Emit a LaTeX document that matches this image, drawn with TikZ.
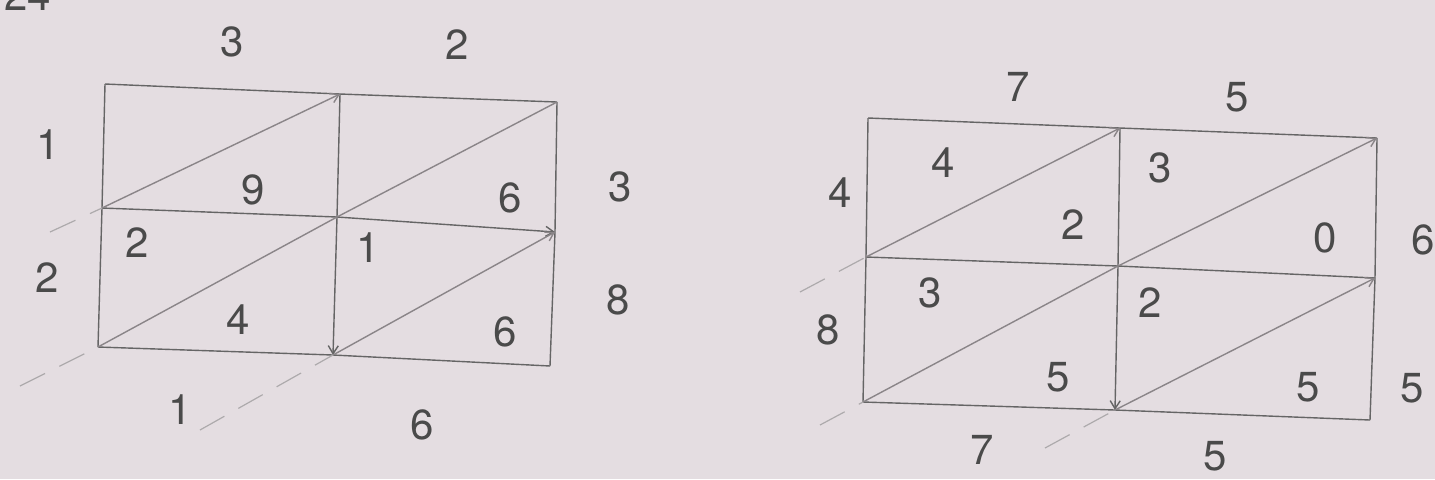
\documentclass[tikz,border=0pt]{standalone}
\usepackage{fontspec}
\setmainfont{TeX Gyre Heros}
\usetikzlibrary{arrows.meta}
\definecolor{paper}{HTML}{E4DDE1}
\definecolor{ink}{HTML}{4A4A4A}
\definecolor{pale}{HTML}{8A8588}
\begin{document}
\begin{tikzpicture}[x=0.5pt,y=-0.5pt,
  digit/.style={text=ink,font=\fontsize{21}{21}\selectfont,inner sep=0pt},
  gridline/.style={draw=ink!85,line width=0.7pt},
  diag/.style={draw=pale,line width=0.7pt},
  faint/.style={draw=pale!70,line width=0.6pt,dash pattern=on 14pt off 8pt},
  tip/.style={-{Straight Barb[length=4pt,width=5pt]}}]
\fill[paper] (0,0) rectangle (1435,479);
\useasboundingbox (0,0) rectangle (1435,479);
% partial top label (cut off by the page edge, as in the scan)
\node[digit] (corner) at (28,-4) {24};
% ---------- left lattice ----------
\coordinate (a1) at (105,84);  \coordinate (a2) at (340,94);  \coordinate (a3) at (557,102);
\coordinate (b1) at (102,208); \coordinate (b2) at (337,217); \coordinate (b3) at (555,232);
\coordinate (c1) at (98,347);  \coordinate (c2) at (333,355); \coordinate (c3) at (550,366);
\coordinate (e1) at (50,232);  \coordinate (e2) at (20,386);  \coordinate (e3) at (200,430);
\draw[gridline] (a1) -- (a2) -- (a3);
\draw[gridline,tip] (b1) -- (b2) -- (b3);
\draw[gridline] (c1) -- (c2) -- (c3);
\draw[gridline] (a1) -- (b1) -- (c1);
\draw[gridline,tip] (a2) -- (b2) -- (c2);
\draw[gridline] (a3) -- (b3) -- (c3);
\draw[diag,tip] (b1) -- (a2);
\draw[diag] (c1) -- (b2) -- (a3);
\draw[diag,tip] (c2) -- (b3);
\draw[faint] (e1) -- (b1);
\draw[faint] (e2) -- (c1);
\draw[faint] (e3) -- (c2);
\node[digit] (t1) at (232,42) {3};
\node[digit] (t2) at (457,45) {2};
\node[digit] (l1) at (48,145) {1};
\node[digit] (l2) at (47,278) {2};
\node[digit] (r1) at (620,187) {3};
\node[digit] (r2) at (618,300) {8};
\node[digit] (p11) at (253,190) {9};
\node[digit] (p12) at (510,198) {6};
\node[digit] (q11) at (137,243) {2};
\node[digit] (q12) at (368,248) {1};
\node[digit] (p21) at (238,320) {4};
\node[digit] (p22) at (505,332) {6};
\node[digit] (s1) at (180,410) {1};
\node[digit] (s2) at (422,425) {6};
% ---------- right lattice ----------
\coordinate (A1) at (868,118);  \coordinate (A2) at (1120,128); \coordinate (A3) at (1377,138);
\coordinate (B1) at (866,257);  \coordinate (B2) at (1118,266); \coordinate (B3) at (1375,278);
\coordinate (C1) at (863,402);  \coordinate (C2) at (1115,410); \coordinate (C3) at (1370,420);
\coordinate (E1) at (800,292);  \coordinate (E2) at (820,425);  \coordinate (E3) at (1045,448);
\draw[gridline] (A1) -- (A2) -- (A3);
\draw[gridline] (B1) -- (B2) -- (B3);
\draw[gridline] (C1) -- (C2) -- (C3);
\draw[gridline] (A1) -- (B1) -- (C1);
\draw[gridline,tip] (A2) -- (B2) -- (C2);
\draw[gridline] (A3) -- (B3) -- (C3);
\draw[diag,tip] (B1) -- (A2);
\draw[diag,tip] (B2) -- (A3);
\draw[diag] (C1) -- (B2);
\draw[diag,tip] (C2) -- (B3);
\draw[faint] (E1) -- (B1);
\draw[faint] (E2) -- (C1);
\draw[faint] (E3) -- (C2);
\node[digit] (T1) at (1018,87) {7};
\node[digit] (T2) at (1237,97) {5};
\node[digit] (L1) at (840,193) {4};
\node[digit] (L2) at (828,330) {8};
\node[digit] (R1) at (1423,240) {6};
\node[digit] (R2) at (1412,388) {5};
\node[digit] (P11) at (943,163) {4};
\node[digit] (P12) at (1160,168) {3};
\node[digit] (Q11) at (1073,225) {2};
\node[digit] (Q12) at (1325,238) {0};
\node[digit] (P21) at (930,293) {3};
\node[digit] (P22) at (1150,303) {2};
\node[digit] (Q21) at (1058,377) {5};
\node[digit] (Q22) at (1308,387) {5};
\node[digit] (S1) at (982,450) {7};
\node[digit] (S2) at (1215,456) {5};
\end{tikzpicture}
\end{document}
